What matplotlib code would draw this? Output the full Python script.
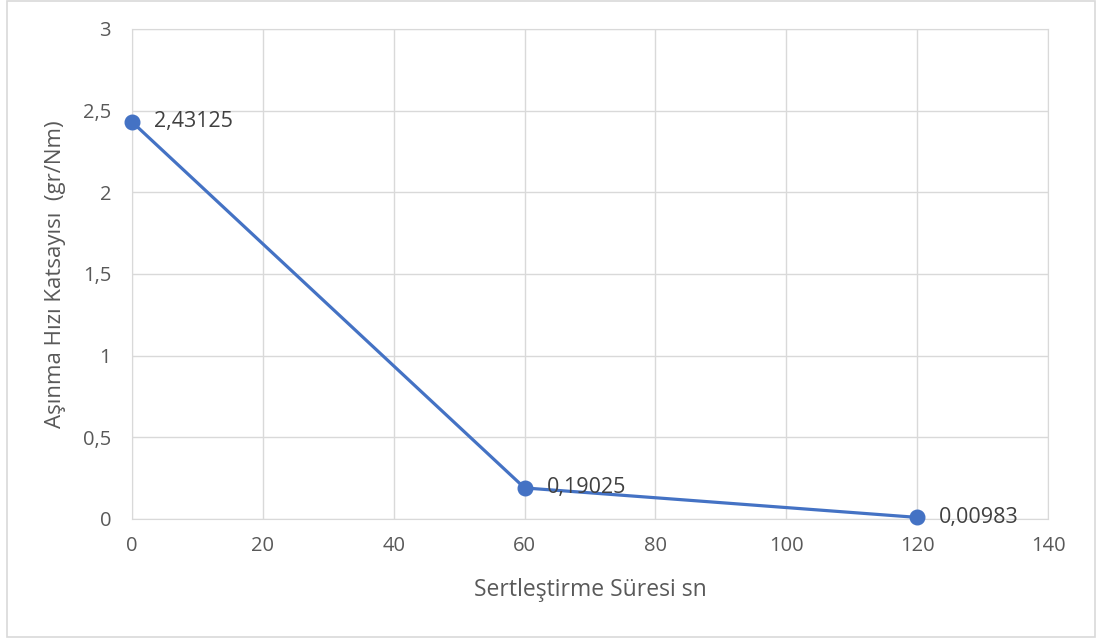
import matplotlib.pyplot as plt
from matplotlib.patches import Rectangle

# data
sure = [0, 60, 120]
asinma = [2.43125, 0.19025, 0.00983]
etiketler = ['2,43125', '0,19025', '0,00983']
xticks = [0, 20, 40, 60, 80, 100, 120, 140]
yticks = [0, 0.5, 1, 1.5, 2, 2.5, 3]
yticklabels = ['0', '0,5', '1', '1,5', '2', '2,5', '3']

plt.rcParams['font.family'] = ['Open Sans', 'DejaVu Sans']
txt = '#595959'
grid = '#d9d9d9'

fig = plt.figure(figsize=(10.99, 6.44), dpi=100)
ax = fig.add_axes([0.1201, 0.1941, 0.8335, 0.7609])

ax.plot(sure, asinma, color='#4472C4', lw=2.3, marker='o', ms=10.5, zorder=3, clip_on=False)
for x, y, s in zip(sure, asinma, etiketler):
    ax.annotate(s, (x, y), xytext=(16, 0), textcoords='offset points',
                va='center', ha='left', fontsize=15.5, color='#404040')

ax.set_xlim(0, 140)
ax.set_ylim(0, 3)
ax.set_xticks(xticks)
ax.set_yticks(yticks)
ax.set_yticklabels(yticklabels)
ax.grid(True, color=grid, lw=1)
ax.set_axisbelow(True)
for sp in ax.spines.values():
    sp.set_color(grid)
ax.tick_params(length=0, colors=txt, labelsize=14.5)
ax.tick_params(axis='y', pad=15)
ax.tick_params(axis='x', pad=12)

ax.set_xlabel('Sertleştirme Süresi sn', fontsize=16.5, color=txt, labelpad=16)
ax.set_ylabel('Aşınma Hızı Katsayısı  (gr/Nm)', fontsize=16, color=txt, labelpad=12)

fig.patches.append(Rectangle((7 / 1099, 7 / 644), 1088 / 1099, 636 / 644,
                             transform=fig.transFigure, fill=False,
                             edgecolor='#d9d9d9', lw=1.2))

fig.savefig('out.png', dpi=100)
